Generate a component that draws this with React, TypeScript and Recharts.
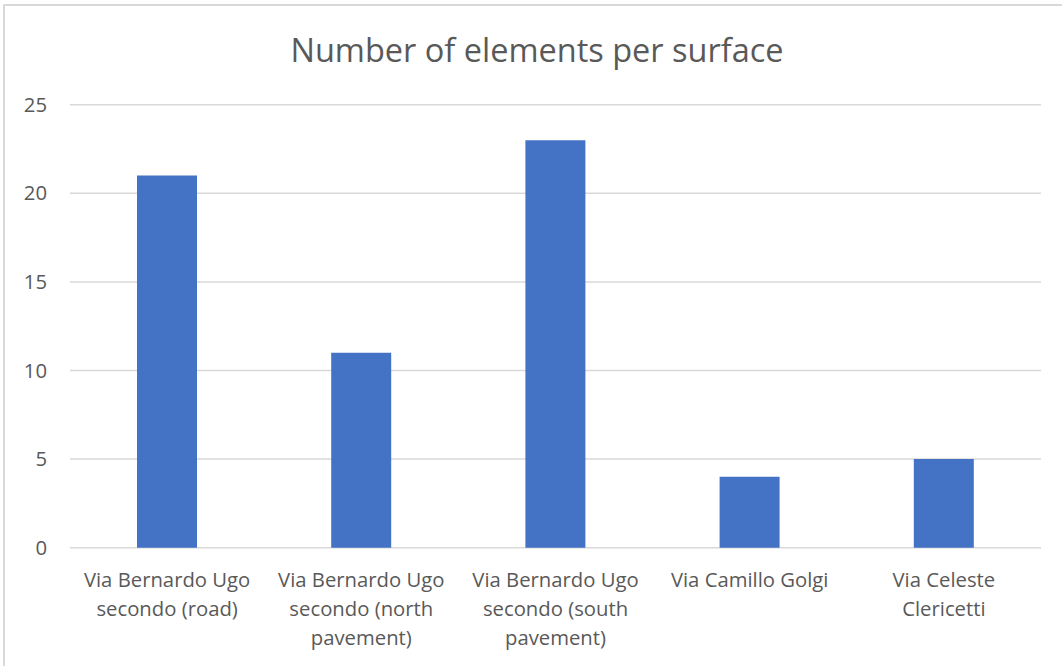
import React from "react";
import { BarChart, Bar, XAxis, YAxis, CartesianGrid } from "recharts";

const categories = [
  "Via Bernardo Ugo secondo (road)",
  "Via Bernardo Ugo secondo (north pavement)",
  "Via Bernardo Ugo secondo (south pavement)",
  "Via Camillo Golgi",
  "Via Celeste Clericetti",
];
const categoryLabelLines = [
  ["Via Bernardo Ugo", "secondo (road)"],
  ["Via Bernardo Ugo", "secondo (north", "pavement)"],
  ["Via Bernardo Ugo", "secondo (south", "pavement)"],
  ["Via Camillo Golgi"],
  ["Via Celeste", "Clericetti"],
];
const elementCounts = [21, 11, 23, 4, 5];
const yTicks = [0, 5, 10, 15, 20, 25];
const title = "Number of elements per surface";

const data = categories.map((c, i) => ({ name: c, value: elementCounts[i], lines: categoryLabelLines[i] }));

const FONT = "'Open Sans', 'Noto Sans', sans-serif";
const TEXT = "#595959";

const XTick = (props: any) => {
  const { x, y, index } = props;
  const lines = categoryLabelLines[index] || [props.payload.value];
  return (
    <text x={x} y={y + 39} textAnchor="middle" fill={TEXT} fontSize={20.3} fontFamily={FONT}>
      {lines.map((l: string, i: number) => (
        <tspan key={i} x={x} dy={i === 0 ? 0 : 29}>
          {l}
        </tspan>
      ))}
    </text>
  );
};

const YTick = (props: any) => {
  const { x, y, payload } = props;
  return (
    <text x={x} y={y + 7} textAnchor="end" fill={TEXT} fontSize={20.3} fontFamily={FONT}>
      {payload.value}
    </text>
  );
};

export default function App() {
  return (
    <div style={{ position: "absolute", left: 0, top: 0, width: 1062, height: 666, overflow: "hidden", background: "#fff" }}>
      <div
        style={{
          position: "absolute",
          left: 3,
          top: 4,
          width: 1100,
          height: 700,
          border: "2px solid #D9D9D9",
          boxSizing: "border-box",
        }}
      />
      <svg style={{ position: "absolute", left: 0, top: 0 }} width={1062} height={100}>
        <text x={537} y={62} textAnchor="middle" fill={TEXT} fontSize={32.5} fontFamily={FONT}>
          {title}
        </text>
      </svg>
      <div style={{ position: "absolute", left: 0, top: 0 }}>
        <BarChart
          width={1062}
          height={666}
          data={data}
          margin={{ top: 104.7, right: 21, bottom: 18.3, left: 0 }}
        >
          <CartesianGrid vertical={false} stroke="#D9D9D9" strokeWidth={1.5} />
          <XAxis
            dataKey="name"
            height={100}
            axisLine={false}
            tickLine={false}
            tickSize={0}
            tickMargin={0}
            interval={0}
            tick={<XTick />}
          />
          <YAxis
            width={70}
            domain={[0, 25]}
            ticks={yTicks}
            axisLine={false}
            tickLine={false}
            tickSize={0}
            tickMargin={23}
            tick={<YTick />}
          />
          <Bar dataKey="value" fill="#4472C4" barSize={60} isAnimationActive={false} />
        </BarChart>
      </div>
    </div>
  );
}
